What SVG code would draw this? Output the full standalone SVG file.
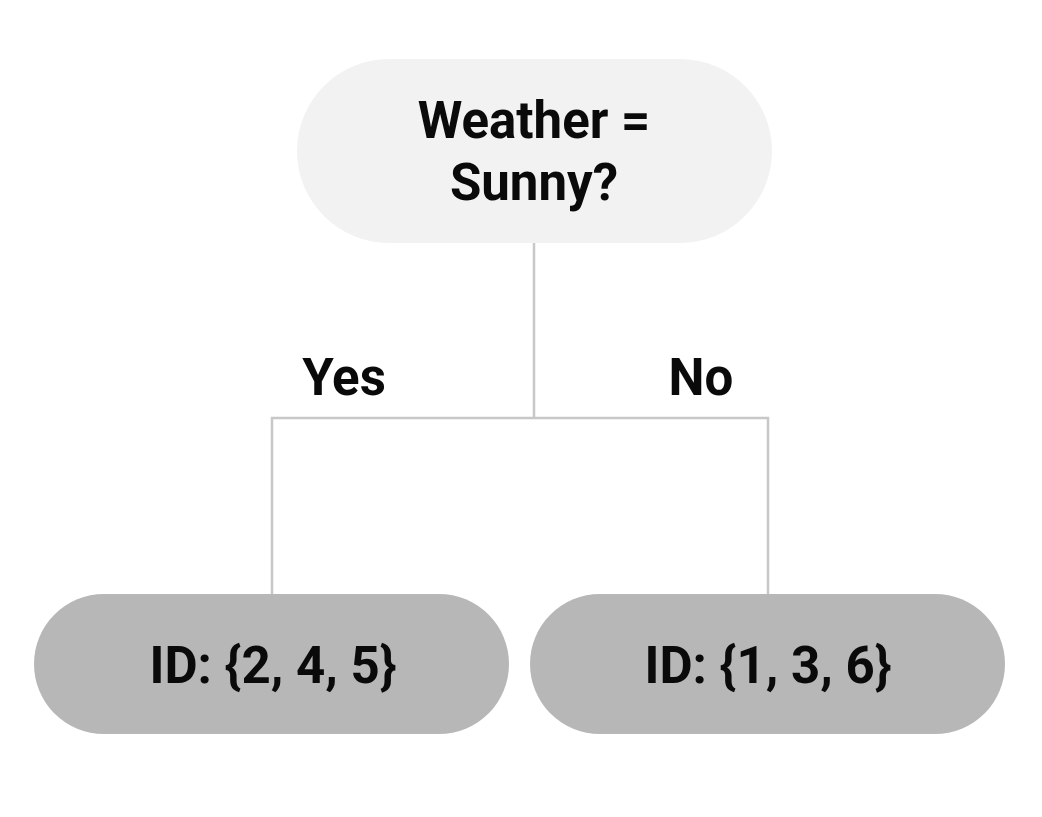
<svg xmlns="http://www.w3.org/2000/svg" width="1042" height="817" viewBox="0 0 1042 817">
<style>
text{font-family:Roboto,"Liberation Sans",sans-serif;font-weight:bold;font-size:51px;fill:#0a0a0a;text-anchor:middle}
.conn{stroke:#c8c8c8;stroke-width:2.5;fill:none}
</style>
<rect width="1042" height="817" fill="#fff"/>
<g id="connectors">
<path class="conn" d="M534 243V418M272 594V418H768V594"/>
</g>
<g id="label-yes"><text x="344" y="395">Yes</text></g>
<g id="label-no"><text x="701" y="395">No</text></g>
<g id="node-root">
<rect x="297" y="59" width="475" height="184" rx="92" fill="#f2f2f2"/>
<text x="534" y="138">Weather =</text>
<text x="534" y="200">Sunny?</text>
</g>
<g id="node-yes">
<rect x="34" y="594" width="475" height="140" rx="70" fill="#b7b7b7"/>
<text x="273" y="683">ID: {2, 4, 5}</text>
</g>
<g id="node-no">
<rect x="530" y="594" width="475" height="140" rx="70" fill="#b7b7b7"/>
<text x="768" y="683">ID: {1, 3, 6}</text>
</g>
</svg>
